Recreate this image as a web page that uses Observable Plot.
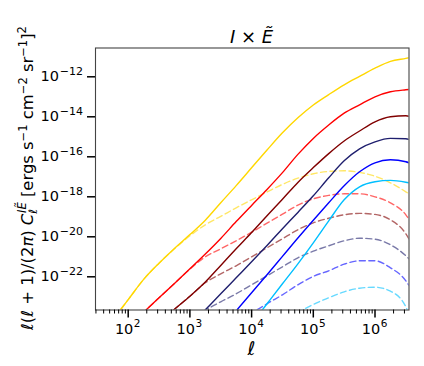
<!DOCTYPE html>
<html><head><meta charset="utf-8">
<script src="https://cdn.jsdelivr.net/npm/d3@7"></script>
<script src="https://cdn.jsdelivr.net/npm/@observablehq/plot@0.6"></script>
<style>body{margin:0;background:#fff} svg{display:block}</style>
</head><body><div id="chart"></div>
<script>
// multipole grid
const ell = [31.6, 56.2, 100, 178, 316, 562, 1000, 1778, 3162, 5623, 1e4, 17783, 31623, 56234, 1e5, 177828, 316228, 562341, 1e6, 1778279, 3162278, 3548134];

// log10 of l(l+1)/(2pi) C_l, per series (solid = total, dashed = second term)
const yellowSolid = [-25.1,-24.15,-23.14,-22.13,-21.32,-20.58,-19.89,-19.17,-18.30,-17.44,-16.55,-15.66,-14.80,-14.05,-13.41,-12.89,-12.40,-11.98,-11.57,-11.23,-11.08,-11.05];
const yellowDashed = [-25.1,-24.15,-23.14,-22.13,-21.32,-20.6,-19.95,-19.4,-18.98,-18.55,-18.15,-17.76,-17.38,-17.07,-16.85,-16.73,-16.7,-16.78,-16.97,-17.3,-17.75,-17.85];
const redSolid = [null,null,-24.5,-23.77,-23.05,-22.33,-21.6,-20.86,-20.08,-19.24,-18.43,-17.63,-16.79,-15.88,-15.08,-14.41,-13.82,-13.40,-13.0,-12.75,-12.65,-12.635];
const redDashed = [null,null,-24.5,-23.77,-23.05,-22.33,-21.62,-21.0,-20.6,-20.2,-19.77,-19.32,-18.87,-18.42,-18.1,-17.93,-17.85,-17.85,-18.0,-18.3,-18.9,-19.12];
const maroonSolid = [null,null,null,null,-24.28,-23.62,-22.97,-22.26,-21.43,-20.6,-19.79,-18.95,-18.12,-17.28,-16.54,-15.84,-15.21,-14.71,-14.25,-14.0,-13.95,-13.97];
const maroonDashed = [null,null,null,null,-24.28,-23.62,-22.97,-22.3,-21.85,-21.45,-21.0,-20.55,-20.1,-19.65,-19.3,-19.07,-18.9,-18.83,-18.88,-19.15,-19.85,-20.1];
const navySolid = [null,null,null,null,null,null,-24.45,-23.65,-22.85,-22.05,-21.25,-20.43,-19.6,-18.78,-17.95,-17.05,-16.2,-15.6,-15.25,-15.08,-15.1,-15.13];
const navyDashed = [null,null,null,null,null,null,-24.45,-23.7,-23.25,-22.85,-22.4,-21.95,-21.5,-21.05,-20.72,-20.45,-20.2,-20.07,-20.12,-20.4,-20.95,-21.1];
const blueSolid = [null,null,null,null,null,null,null,null,-24.6,-23.7,-22.8,-21.9,-20.98,-20.06,-19.17,-18.3,-17.45,-16.75,-16.3,-16.15,-16.25,-16.3];
const blueDashed = [null,null,null,null,null,null,null,null,null,-24.6,-23.85,-23.35,-22.9,-22.4,-21.98,-21.7,-21.37,-21.2,-21.2,-21.55,-22.2,-22.43];
const lightBlueSolid = [null,null,null,null,null,null,null,null,null,null,-24.35,-23.35,-22.35,-21.35,-20.3,-19.2,-18.15,-17.5,-17.25,-17.18,-17.27,-17.3];
const lightBlueDashed = [null,null,null,null,null,null,null,null,null,null,null,null,-24.4,-23.8,-23.38,-23.05,-22.75,-22.57,-22.52,-22.72,-23.5,-23.85];

const seriesNames = ["yellow","red","maroon","navy","blue","lightblue"];
const seriesColors = ["#ffd700","#ff0000","#800000","#1f1f6e","#0000ff","#00bfff"];
const solidSeries = [yellowSolid, redSolid, maroonSolid, navySolid, blueSolid, lightBlueSolid];
const dashedSeries = [yellowDashed, redDashed, maroonDashed, navyDashed, blueDashed, lightBlueDashed];

const xTicks = [1e2, 1e3, 1e4, 1e5, 1e6];
const xTickExps = ["2","3","4","5","6"];
const yTicks = [1e-12, 1e-14, 1e-16, 1e-18, 1e-20, 1e-22];
const yTickExps = ["\u221212","\u221214","\u221216","\u221218","\u221220","\u221222"];
const xMinorTicks = [];
for (let k = 1; k <= 6; k++) for (let m = 2; m <= 9; m++) { const v = m * 10 ** k; if (v > 29.5 && v < 3.55e6) xMinorTicks.push(v); }

function rows(list) {
  const out = [];
  list.forEach((arr, i) => arr.forEach((v, j) => { if (v !== null) out.push({ell: ell[j], value: 10 ** v, series: seriesNames[i], color: seriesColors[i]}); }));
  return out;
}
const solidRows = rows(solidSeries);
const dashedRows = rows(dashedSeries);

const chart = Plot.plot({
  width: 424, height: 366,
  marginLeft: 95, marginRight: 15.5, marginTop: 47.5, marginBottom: 56.5,
  style: {fontFamily: "DejaVu Sans", background: "white", overflow: "visible"},
  x: {type: "log", domain: [10 ** 1.47, 10 ** 6.551], label: null},
  y: {type: "log", domain: [10 ** -23.66, 10 ** -10.56], label: null},
  color: {type: "identity"},
  marks: [
    Plot.line(dashedRows, {x: "ell", y: "value", z: "series", stroke: "color", strokeOpacity: 0.6, strokeWidth: 1.4, strokeDasharray: "6,3.5", curve: "monotone-x", clip: true}),
    Plot.line(solidRows, {x: "ell", y: "value", z: "series", stroke: "color", strokeWidth: 1.4, curve: "monotone-x", clip: true}),
    Plot.frame({stroke: "#444", strokeWidth: 1.1}),
    Plot.axisX({ticks: xTicks, tickSize: 8, strokeWidth: 1.5, stroke: "black", tickFormat: () => "", label: null}),
    Plot.axisX({ticks: xMinorTicks, tickSize: 4, strokeWidth: 1, stroke: "black", tickFormat: () => "", label: null}),
    Plot.axisY({ticks: yTicks, tickSize: 8, strokeWidth: 1.5, stroke: "black", tickFormat: () => "", label: null})
  ]
});
document.getElementById("chart").appendChild(chart);

const svg = d3.select(chart);
const xs = chart.scale("x"), ys = chart.scale("y");
const FONT = "DejaVu Sans";

xTicks.forEach((t, i) => {
  const tx = svg.append("text").attr("x", xs.apply(t)).attr("y", 334).attr("text-anchor", "middle")
    .attr("font-family", FONT).attr("font-size", 14.5).attr("fill", "black");
  tx.append("tspan").text("10");
  tx.append("tspan").attr("font-size", 10.5).attr("dy", -7).attr("dx", 0.5).text(xTickExps[i]);
});
yTicks.forEach((t, i) => {
  const ty = svg.append("text").attr("x", 83).attr("y", ys.apply(t) + 5).attr("text-anchor", "end")
    .attr("font-family", FONT).attr("font-size", 14.5).attr("fill", "black");
  ty.append("tspan").text("10");
  ty.append("tspan").attr("font-size", 11).attr("dy", -6).attr("dx", 0.8).text(yTickExps[i]);
});

// title
const title = svg.append("text").attr("x", 251.5).attr("y", 43).attr("text-anchor", "middle")
  .attr("font-family", FONT).attr("font-size", 18).attr("fill", "black");
title.append("tspan").attr("font-style", "italic").text("I");
title.append("tspan").text(" \u00d7 ");
title.append("tspan").attr("font-style", "italic").text("\u1EBC");

// x label
svg.append("text").attr("x", 251.5).attr("y", 355).attr("text-anchor", "middle")
  .attr("font-family", FONT).attr("font-size", 19).attr("font-style", "italic").attr("fill", "black").text("\u2113");

// y label
const yl = svg.append("text").attr("transform", "translate(33,178) rotate(-90)").attr("text-anchor", "middle")
  .attr("font-family", FONT).attr("font-size", 16.4).attr("fill", "black");
yl.append("tspan").attr("font-style", "italic").text("\u2113");
yl.append("tspan").text("(");
yl.append("tspan").attr("font-style", "italic").text("\u2113");
yl.append("tspan").text(" + 1)/(2");
yl.append("tspan").attr("font-style", "italic").text("\u03c0");
yl.append("tspan").text(") ");
yl.append("tspan").attr("font-style", "italic").text("C");
yl.append("tspan").attr("font-style", "italic").attr("font-size", 11.5).attr("dy", 4).text("\u2113");
yl.append("tspan").attr("font-style", "italic").attr("font-size", 11.5).attr("dx", -4).attr("dy", -11).text("I\u1EBC");
yl.append("tspan").attr("dy", 7).text(" [ergs s");
yl.append("tspan").attr("font-size", 11.5).attr("dy", -6).text("\u22121");
yl.append("tspan").attr("dy", 6).text(" cm");
yl.append("tspan").attr("font-size", 11.5).attr("dy", -6).text("\u22122");
yl.append("tspan").attr("dy", 6).text(" sr");
yl.append("tspan").attr("font-size", 11.5).attr("dy", -6).text("\u22121");
yl.append("tspan").attr("dy", 6).text("]");
yl.append("tspan").attr("font-size", 11.5).attr("dy", -7).text("2");
</script>
</body></html>
